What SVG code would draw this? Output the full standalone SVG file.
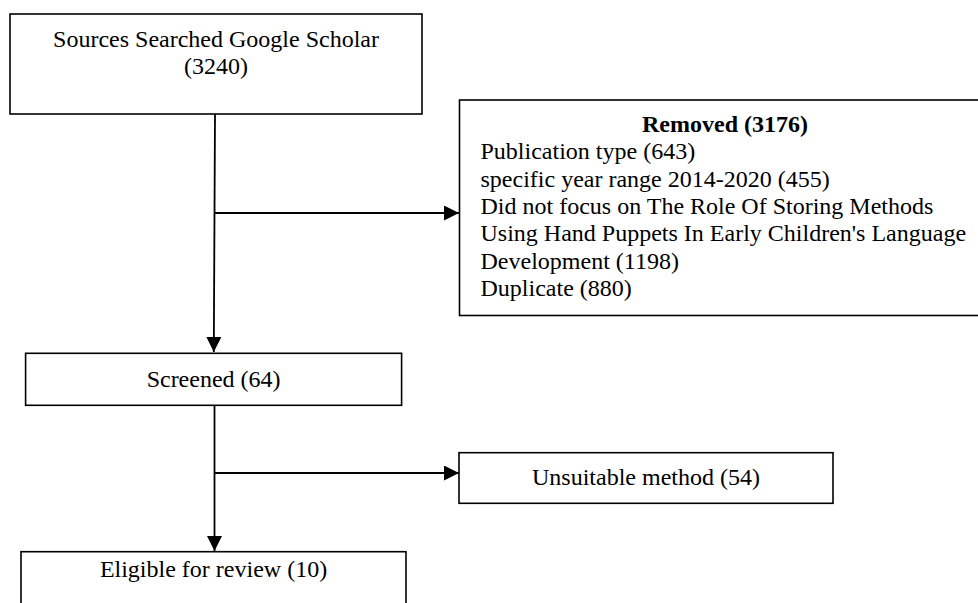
<svg xmlns="http://www.w3.org/2000/svg" width="978" height="603" viewBox="0 0 978 603">
<style>
.box{fill:#fff;stroke:#000;stroke-width:1.6}
.t{font-family:"Liberation Serif","Times New Roman",serif;font-size:24px;fill:#000}
.c{text-anchor:middle}
.b{font-weight:bold}
.edge{fill:none;stroke:#000;stroke-width:1.8}
</style>
<defs>
<marker id="arr" markerUnits="userSpaceOnUse" markerWidth="16" markerHeight="16" refX="15" refY="7.5" orient="auto">
<path d="M0,0 L15,7.5 L0,15 z" fill="#000"/>
</marker>
</defs>
<rect width="978" height="603" fill="#fff"/>
<g id="connectors">
<path class="edge" d="M215,114 L213.8,352" marker-end="url(#arr)"/>
<path class="edge" d="M214.6,213 L459,213" marker-end="url(#arr)"/>
<path class="edge" d="M214.5,405.5 L214.5,551" marker-end="url(#arr)"/>
<path class="edge" d="M214.5,473 L459,473" marker-end="url(#arr)"/>
</g>
<g id="sources">
<rect class="box" x="10" y="14" width="412" height="100"/>
<text class="t c" x="216" y="46.5">Sources Searched Google Scholar</text>
<text class="t c" x="216" y="74">(3240)</text>
</g>
<g id="removed">
<rect class="box" x="459.5" y="100" width="532" height="215.5"/>
<text class="t c b" x="725" y="131.7">Removed (3176)</text>
<text class="t" x="480.5" y="159.1">Publication type (643)</text>
<text class="t" x="480.5" y="186.5">specific year range 2014-2020 (455)</text>
<text class="t" x="480.5" y="213.9">Did not focus on The Role Of Storing Methods</text>
<text class="t" x="480.5" y="241.3">Using Hand Puppets In Early Children's Language</text>
<text class="t" x="480.5" y="268.7">Development (1198)</text>
<text class="t" x="480.5" y="296.1">Duplicate (880)</text>
</g>
<g id="screened">
<rect class="box" x="25.6" y="353.3" width="376" height="52"/>
<text class="t c" x="213.6" y="387.3">Screened (64)</text>
</g>
<g id="unsuitable">
<rect class="box" x="459" y="452.7" width="374" height="50.6"/>
<text class="t c" x="646" y="485">Unsuitable method (54)</text>
</g>
<g id="eligible">
<rect class="box" x="21" y="551.7" width="385" height="70"/>
<text class="t c" x="213.5" y="577">Eligible for review (10)</text>
</g>
</svg>
